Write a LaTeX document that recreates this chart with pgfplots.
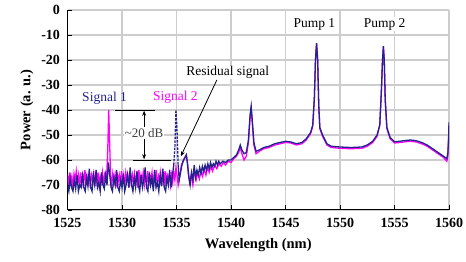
\documentclass[border=0pt]{standalone}
\usepackage{pgfplots}
\pgfplotsset{compat=1.18}
\usepackage{fontspec}
\setmainfont{Liberation Serif}
\usetikzlibrary{arrows.meta}
\definecolor{navyc}{RGB}{35,35,140}
\definecolor{magc}{RGB}{255,0,255}
\definecolor{gridc}{RGB}{205,205,205}
\begin{document}
\begin{tikzpicture}
\path[use as bounding box] (-67.5pt,-52pt) rectangle (398.5pt,210pt);
\begin{axis}[
  scale only axis, width=381.5pt, height=200pt,
  xmin=1525, xmax=1560, ymin=-80, ymax=0,
  axis x line=bottom, axis y line=left,
  axis line style={-, black, line width=1pt},
  xtick={1525,1530,...,1560}, ytick={-80,-70,...,0},
  xticklabels={\textbf{1525},\textbf{1530},\textbf{1535},\textbf{1540},\textbf{1545},\textbf{1550},\textbf{1555},\textbf{1560}},
  yticklabels={\textbf{-80},\textbf{-70},\textbf{-60},\textbf{-50},\textbf{-40},\textbf{-30},\textbf{-20},\textbf{-10},\textbf{0}},
  tick align=inside, major tick length=5pt,
  tick style={black, line width=0.8pt},
  grid=major, grid style={gridc, line width=1.1pt},
  ticklabel style={font=\fontsize{14}{16}\selectfont},
  xticklabel style={yshift=-5pt},
  yticklabel style={xshift=-4pt},
  xlabel={\textbf{Wavelength (nm)}}, ylabel={\textbf{Power (a. u.)}},
  label style={font=\fontsize{14.5}{16}\selectfont},
  xlabel style={yshift=-4pt},
  ylabel style={yshift=1pt},
  clip=true,
]
\addplot[magc, line width=1.3pt] coordinates {
(1525.0,-66)(1525.1,-70)(1525.2,-65)(1525.3,-69)(1525.4,-66.5)(1525.5,-71)(1525.6,-65.5)(1525.7,-68)(1525.8,-64.5)(1525.9,-70)
(1526.0,-66)(1526.1,-69.5)(1526.2,-65)(1526.3,-71)(1526.4,-66)(1526.5,-68.5)(1526.6,-64)(1526.7,-70)(1526.8,-66.5)(1526.9,-69)
(1527.0,-65)(1527.1,-71)(1527.2,-66)(1527.3,-68)(1527.4,-64.5)(1527.5,-70.5)(1527.6,-66)(1527.7,-69)(1527.8,-65)(1527.9,-70)
(1528.0,-66.5)(1528.1,-68.5)(1528.2,-65)(1528.3,-70)(1528.4,-66)(1528.5,-68)(1528.6,-66)(1528.7,-55)(1528.78,-40)(1528.86,-52)(1528.95,-66)
(1529.05,-70)(1529.15,-65.5)(1529.25,-69)(1529.35,-66)(1529.45,-71)(1529.55,-65)(1529.65,-68.5)(1529.75,-66)(1529.85,-70)(1529.95,-64.5)
(1530.05,-69)(1530.15,-66)(1530.25,-70.5)(1530.35,-65)(1530.45,-68)(1530.55,-66.5)(1530.65,-71)(1530.75,-64.5)(1530.85,-69)(1530.95,-66)
(1531.05,-70)(1531.15,-65.5)(1531.25,-68.5)(1531.35,-66)(1531.45,-71)(1531.55,-64)(1531.65,-69.5)(1531.75,-66)(1531.85,-68)(1531.95,-65)
(1532.05,-70)(1532.15,-66.5)(1532.25,-69)(1532.35,-64.5)(1532.45,-70.5)(1532.55,-66)(1532.65,-68)(1532.75,-65)(1532.85,-71)(1532.95,-66)
(1533.05,-69)(1533.15,-64)(1533.25,-70)(1533.35,-66.5)(1533.45,-68.5)(1533.55,-65)(1533.65,-70)(1533.75,-66)(1533.85,-69)(1533.95,-64.5)
(1534.05,-70.5)(1534.15,-66)(1534.25,-68)(1534.35,-65.5)(1534.45,-70)(1534.55,-66)(1534.65,-69)(1534.75,-65)(1534.85,-68)(1534.95,-63)
(1535.05,-66)(1535.15,-70)(1535.3,-66)(1535.45,-62)(1535.6,-60.5)(1535.75,-59)(1535.9,-58)(1536.05,-63)(1536.2,-69)(1536.35,-66)
(1536.5,-70)(1536.65,-64)(1536.8,-68)(1536.95,-65)(1537.1,-67.5)(1537.25,-64)(1537.4,-66.5)(1537.55,-63.5)(1537.7,-66)(1537.85,-63)
(1538.0,-65)(1538.15,-62.5)(1538.3,-64.5)(1538.5,-62)(1538.7,-63.5)(1538.9,-61.5)(1539.1,-62.5)(1539.3,-61)(1539.5,-62)(1539.75,-60.5)
(1540.0,-61)(1540.25,-59.5)(1540.5,-58.5)(1540.7,-57)(1540.85,-55)(1541.0,-57.5)(1541.2,-60)(1541.4,-58.5)(1541.6,-53)(1541.75,-43)
(1541.85,-39.5)(1541.95,-45)(1542.1,-54)(1542.3,-57.5)(1542.6,-56.5)(1543,-55.5)(1543.5,-55)(1544,-54)(1544.5,-53.5)(1545,-53)
(1545.5,-53.2)(1546,-54)(1546.5,-53.5)(1546.9,-52)(1547.3,-49.5)(1547.5,-46.5)(1547.65,-35)(1547.75,-20)(1547.85,-13.5)(1547.95,-20)
(1548.05,-38)(1548.15,-47.5)(1548.4,-50.5)(1548.8,-54)(1549.2,-55)(1550,-55.3)(1551,-55.5)(1552,-55.3)(1552.5,-54.5)(1553,-53)
(1553.4,-50.5)(1553.65,-46)(1553.8,-32)(1553.9,-20)(1553.98,-14.8)(1554.06,-20)(1554.15,-36)(1554.3,-47.5)(1554.6,-51.5)(1555,-53.2)
(1555.5,-53)(1556,-52.7)(1556.5,-52.5)(1557,-52.8)(1557.5,-53.5)(1558,-54.5)(1558.5,-56)(1559,-57.5)(1559.5,-59)(1559.8,-60.5)
(1559.9,-58)(1559.97,-51)(1560,-46)
};
\addplot[navyc, line width=1.3pt] coordinates {
(1525.000,-70)(1525.125,-72.5)(1525.25,-67)(1525.375,-71)(1525.5,-72.5)(1525.625,-68)(1525.75,-71.5)(1525.875,-66)
(1526.0,-72.5)(1526.125,-70)(1526.25,-71)(1526.375,-65)(1526.5,-71)(1526.625,-72.5)(1526.75,-67)(1526.875,-70.5)
(1527.0,-63.5)(1527.125,-71)(1527.25,-72.5)(1527.375,-66)(1527.5,-70)(1527.625,-64)(1527.75,-71)(1527.875,-69)
(1528.0,-72.5)(1528.125,-65)(1528.25,-70)(1528.375,-71.5)(1528.5,-66)(1528.625,-70)(1528.75,-61)(1528.875,-66)
(1529.0,-71)(1529.125,-72.5)(1529.25,-67)(1529.375,-70)(1529.5,-64)(1529.625,-71)(1529.75,-72.5)(1529.875,-68)
(1530.0,-71)(1530.125,-65.5)(1530.25,-72.5)(1530.375,-70)(1530.5,-66)(1530.625,-71)(1530.75,-63)(1530.875,-70)
(1531.0,-72.5)(1531.125,-67)(1531.25,-71)(1531.375,-64.5)(1531.5,-70)(1531.625,-72.5)(1531.75,-66)(1531.875,-71)
(1532.0,-68)(1532.125,-63)(1532.25,-71)(1532.375,-72.5)(1532.5,-65)(1532.625,-70)(1532.75,-67)(1532.875,-72.5)
(1533.0,-64)(1533.125,-71)(1533.25,-69)(1533.375,-72.5)(1533.5,-66)(1533.625,-70.5)(1533.75,-63.5)(1533.875,-71)
(1534.0,-72.5)(1534.125,-67)(1534.25,-70)(1534.375,-64)(1534.5,-71)(1534.625,-66)(1534.75,-62)
};
\addplot[navyc, line width=1.3pt, dash pattern=on 2.5pt off 1.2pt] coordinates {
(1534.75,-62)(1534.85,-55)(1534.95,-40)(1535.05,-48)(1535.15,-62)
};
\addplot[navyc, line width=1.3pt] coordinates {
(1535.15,-62)(1535.25,-68)(1535.375,-65)(1535.5,-62)(1535.65,-60)(1535.8,-59)(1535.9,-58)(1536.0,-61)(1536.1,-66)(1536.25,-70)
(1536.375,-65)(1536.5,-68)(1536.625,-62)(1536.75,-67)(1536.875,-64)(1537.0,-66)(1537.125,-63)(1537.25,-65.5)(1537.375,-62.5)(1537.5,-64.5)
(1537.625,-62)(1537.75,-64)(1537.875,-61.5)(1538.0,-63.5)(1538.125,-61)(1538.25,-63)(1538.375,-61.5)(1538.5,-62.5)(1538.625,-60.5)(1538.75,-62)
(1538.875,-60.5)(1539.0,-61.5)(1539.25,-60.5)(1539.5,-61)(1539.75,-60)(1540.0,-60)(1540.25,-59)(1540.5,-58)(1540.7,-56)(1540.85,-54)
(1541.0,-56)(1541.2,-57.5)(1541.4,-57)(1541.6,-52)(1541.75,-42)(1541.85,-38.5)(1541.95,-44)(1542.1,-53)(1542.3,-56.5)(1542.6,-56)
(1543,-55)(1543.5,-54.5)(1544,-53.5)(1544.5,-53)(1545,-52.5)(1545.5,-52.8)(1546,-53.5)(1546.5,-53)(1546.9,-51.5)(1547.3,-49)
(1547.5,-46)(1547.65,-35)(1547.75,-20)(1547.85,-13.3)(1547.95,-20)(1548.05,-38)(1548.15,-47)(1548.4,-50)(1548.8,-53.5)(1549.2,-54.5)
(1550,-54.8)(1551,-55)(1552,-54.8)(1552.5,-54)(1553,-52.5)(1553.4,-50)(1553.65,-46)(1553.8,-32)(1553.9,-20)(1553.98,-14.5)
(1554.06,-20)(1554.15,-36)(1554.3,-47)(1554.6,-51)(1555,-52.7)(1555.5,-52.5)(1556,-52.2)(1556.5,-52)(1557,-52.3)(1557.5,-53)
(1558,-54)(1558.5,-55.5)(1559,-57)(1559.5,-58.5)(1559.8,-59.5)(1559.9,-57)(1559.97,-50)(1560,-45)
};
% annotations
\draw[black, line width=0.8pt] (axis cs:1529.36,-40) -- (axis cs:1533.04,-40);
\draw[black, line width=0.8pt] (axis cs:1531.0,-60) -- (axis cs:1534.5,-60);
\draw[black, line width=0.8pt, {Stealth[length=5pt,width=4pt]}-{Stealth[length=5pt,width=4pt]}] (axis cs:1532.03,-40.3) -- (axis cs:1532.03,-59.7);
\node[fill=white, inner sep=1pt, font=\fontsize{13}{15}\selectfont, text=black!75] at (axis cs:1532.03,-49.2) {\textasciitilde20 dB};
\draw[black, line width=0.8pt, -{Stealth[length=5pt,width=4pt]}] (axis cs:1538.7,-28) -- (axis cs:1535.4,-58.5);
\node[fill=white, inner sep=1pt, font=\fontsize{13.5}{16}\selectfont] at (axis cs:1539.7,-24.8) {Residual signal};
\node[font=\fontsize{13.5}{16}\selectfont, text=navyc] at (axis cs:1528.4,-35.2) {Signal 1};
\node[font=\fontsize{13.5}{16}\selectfont, text=magc] at (axis cs:1534.9,-34.8) {Signal 2};
\node[fill=white, inner sep=1pt, font=\fontsize{13.5}{16}\selectfont] at (axis cs:1547.65,-5.6) {Pump 1};
\node[fill=white, inner sep=1pt, font=\fontsize{13.5}{16}\selectfont] at (axis cs:1554.1,-5.6) {Pump 2};
\end{axis}
\end{tikzpicture}
\end{document}
